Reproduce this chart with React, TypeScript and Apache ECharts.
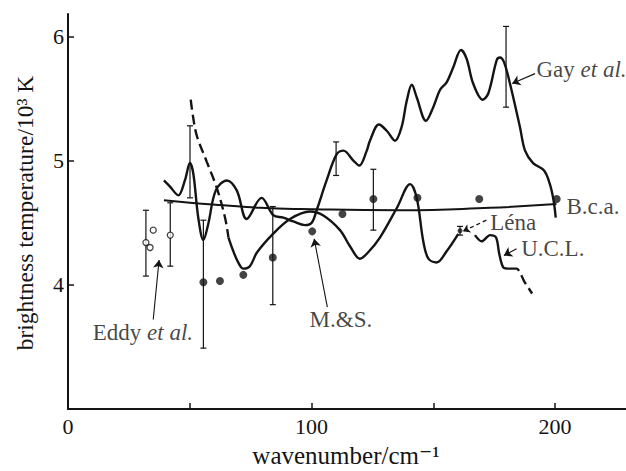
import React, { useEffect, useRef } from "react";
import * as echarts from "echarts";

const INK = "#141414";
const FONT = "'Liberation Serif', 'DejaVu Serif', serif";

// Gay et al. (solid curve)
const gayCurve: number[][] = [
  [39.4, 4.84], [41.9, 4.79], [45.3, 4.72], [48.0, 4.84], [50.1, 4.98], [51.5, 4.89],
  [53.5, 4.54], [55.6, 4.36], [57.6, 4.49], [60.7, 4.76], [65.2, 4.84], [69.3, 4.76],
  [73.4, 4.53], [79.5, 4.70], [84.3, 4.56], [88.4, 4.54], [92.5, 4.51], [97.3, 4.48],
  [100.1, 4.5], [102.1, 4.6], [106.2, 4.84], [110.3, 5.05], [113.1, 5.08], [117.2, 5.0],
  [119.6, 4.96], [122.7, 5.08], [124.0, 5.16], [127.7, 5.29], [130.9, 5.24], [134.3, 5.16],
  [137.0, 5.27], [139.1, 5.48], [141.2, 5.61], [143.2, 5.51], [147.0, 5.32], [150.0, 5.43],
  [152.8, 5.57], [155.5, 5.63], [158.2, 5.75], [161.4, 5.89], [163.7, 5.82], [166.4, 5.62],
  [170.3, 5.49], [172.6, 5.54], [176.1, 5.81], [177.4, 5.83], [179.1, 5.79], [181.5, 5.62],
  [185.6, 5.27], [187.7, 5.08], [191.0, 4.98], [195.5, 4.92], [197.9, 4.81], [199.4, 4.68],
  [200.3, 4.54],
];

// U.C.L. curve pieces
const uclDashedStart: number[][] = [
  [50.4, 5.49], [51.3, 5.36], [52.9, 5.2], [57.0, 4.99], [61.1, 4.78], [64.5, 4.54], [65.9, 4.38],
];
const uclSolidMain: number[][] = [
  [65.9, 4.38], [67.9, 4.27], [69.9, 4.18], [72.0, 4.13], [74.7, 4.15], [77.6, 4.26],
  [84.2, 4.41], [91.2, 4.53], [99.4, 4.59], [104.7, 4.56], [111.7, 4.44], [115.8, 4.31],
  [119.9, 4.21], [123.2, 4.26], [128.1, 4.38], [135.1, 4.62], [140.5, 4.81], [143.2, 4.7],
  [145.9, 4.35], [148.0, 4.21], [151.4, 4.18], [155.5, 4.27], [160.3, 4.41],
];
const uclSolidTail: number[][] = [
  [167.1, 4.4], [169.9, 4.35], [173.3, 4.4], [175.8, 4.38], [177.1, 4.25], [178.8, 4.14], [181.5, 4.13],
];
const uclDashedEnd: number[][] = [
  [181.5, 4.13], [184.4, 4.13], [185.6, 4.1], [187.3, 4.03], [190.6, 3.93],
];

// B.c.a. smooth curve
const bcaCurve: number[][] = [
  [39.4, 4.68], [50.1, 4.66], [63.8, 4.64], [78.9, 4.62], [95.3, 4.61], [136.3, 4.6],
  [173.3, 4.62], [200.6, 4.65],
];

// M.&S. points (filled)
const msPoints: number[][] = [
  [55.6, 4.02], [62.4, 4.03], [72.0, 4.08], [84.1, 4.22], [100.3, 4.43], [112.7, 4.57],
  [125.4, 4.69], [143.5, 4.7], [168.9, 4.69], [200.7, 4.69],
];
// Eddy et al. points (open)
const eddyPoints: number[][] = [[32.0, 4.34], [33.7, 4.3], [35.0, 4.44], [42.0, 4.4]];
// Léna point
const lenaPoints: number[][] = [[161.0, 4.435]];

// error bars: [x, low, high]
const errorBars: number[][] = [
  [50.1, 4.7, 5.28], [110.1, 4.88, 5.15], [179.9, 5.43, 6.08],
  [55.6, 3.49, 4.52], [84.1, 3.84, 4.63], [125.4, 4.44, 4.93],
  [32.0, 4.07, 4.6], [42.0, 4.15, 4.66], [161.0, 4.4, 4.47],
];

const xTickValues = [50, 100, 150, 200];
const xLabelValues = [0, 100, 200];
const yTickValues = [4, 5, 6];

// annotations (data coordinates)
const labelTexts = ["{r|Gay }{i|et al.}", "{r|B.c.a.}", "{r|Léna}", "{r|U.C.L.}", "{r|M.&S.}", "{r|Eddy }{i|et al.}"];
const labelAnchors: number[][] = [
  [192.6, 5.73], [204.9, 4.63], [173.6, 4.5], [186.3, 4.29], [99.4, 3.72], [10.4, 3.61],
];
const arrowLines: number[][][] = [
  [[191.8, 5.7], [182.4, 5.62]],
  [[184.2, 4.29], [179.0, 4.235]],
  [[106.5, 3.82], [101.1, 4.37]],
  [[35.0, 3.72], [37.4, 4.2]],
];
const lenaArrow: number[][][] = [[[171.8, 4.52], [162.2, 4.43]]];

export default function App() {
  const ref = useRef<HTMLDivElement>(null);
  useEffect(() => {
    if (!ref.current) return;
    const chart = echarts.init(ref.current, undefined, { renderer: "svg" });
    const lineBase = (data: number[][], dashed: boolean, width = 2.4, smooth: number | boolean = 0.35) => ({
      type: "line",
      data,
      smooth,
      showSymbol: false,
      symbol: "none",
      lineStyle: { color: INK, width, type: dashed ? [10, 5] : "solid" },
      silent: true,
      z: 3,
    });
    const rich = {
      r: { fontFamily: FONT, fontSize: 23, color: INK, fontStyle: "normal" },
      i: { fontFamily: FONT, fontSize: 23, color: INK, fontStyle: "italic" },
    };
    chart.setOption({
      animation: false,
      backgroundColor: "#ffffff",
      grid: { left: 68, top: 14, width: 229 * 2.435, height: 395, containLabel: false, outerBoundsMode: "none" },
      xAxis: {
        type: "value",
        min: 0,
        max: 229,
        interval: 50,
        axisLine: { show: true, lineStyle: { color: INK, width: 2 } },
        axisTick: { show: true, inside: true, length: 6, customValues: xTickValues, lineStyle: { color: INK, width: 1.5 } },
        axisLabel: { customValues: xLabelValues, fontFamily: FONT, fontSize: 22, color: INK, margin: 6 },
        splitLine: { show: false },
      },
      yAxis: {
        type: "value",
        min: 3,
        max: 6.18,
        interval: 1,
        axisLine: { show: true, lineStyle: { color: INK, width: 2 } },
        axisTick: { show: true, inside: true, length: 6, customValues: yTickValues, lineStyle: { color: INK, width: 1.5 } },
        axisLabel: { customValues: yTickValues, fontFamily: FONT, fontSize: 22, color: INK, margin: 4 },
        splitLine: { show: false },
      },
      graphic: [
        {
          type: "text",
          x: 346,
          y: 455,
          style: { text: "wavenumber/cm⁻¹", fontFamily: FONT, fontSize: 25, fill: INK, align: "center", verticalAlign: "middle" },
        },
        {
          type: "text",
          x: 25,
          y: 213,
          rotation: Math.PI / 2,
          style: { text: "brightness temperature/10³ K", fontFamily: FONT, fontSize: 23.5, fill: INK, align: "center", verticalAlign: "middle" },
        },
      ],
      series: [
        lineBase(gayCurve, false),
        lineBase(uclDashedStart, true),
        lineBase(uclSolidMain, false),
        lineBase(uclSolidTail, false, 2.4, 0.3),
        lineBase(uclDashedEnd, true, 2.4, 0.2),
        lineBase(bcaCurve, false, 2.0, 0.5),
        {
          type: "custom",
          data: errorBars,
          encode: { x: 0, y: [1, 2] },
          silent: true,
          z: 4,
          renderItem: (_p: any, api: any) => {
            const x = api.value(0);
            const a = api.coord([x, api.value(1)]);
            const b = api.coord([x, api.value(2)]);
            const c = 3;
            const st = { stroke: INK, lineWidth: 1.2 };
            return {
              type: "group",
              children: [
                { type: "line", shape: { x1: a[0], y1: a[1], x2: b[0], y2: b[1] }, style: st },
                { type: "line", shape: { x1: a[0] - c, y1: a[1], x2: a[0] + c, y2: a[1] }, style: st },
                { type: "line", shape: { x1: b[0] - c, y1: b[1], x2: b[0] + c, y2: b[1] }, style: st },
              ],
            };
          },
        },
        {
          type: "scatter",
          data: msPoints,
          symbol: "circle",
          symbolSize: 8,
          itemStyle: { color: INK },
          z: 5,
          silent: true,
        },
        {
          type: "scatter",
          data: eddyPoints,
          symbol: "circle",
          symbolSize: 6,
          itemStyle: { color: "#ffffff", borderColor: INK, borderWidth: 1.3 },
          z: 5,
          silent: true,
        },
        {
          type: "scatter",
          data: lenaPoints,
          symbol: "circle",
          symbolSize: 5,
          itemStyle: { color: INK },
          z: 5,
          silent: true,
        },
        {
          type: "lines",
          coordinateSystem: "cartesian2d",
          data: arrowLines.map((c) => ({ coords: c })),
          symbol: ["none", "arrow"],
          symbolSize: 8,
          lineStyle: { color: INK, width: 1.1, opacity: 1 },
          silent: true,
          z: 6,
        },
        {
          type: "lines",
          coordinateSystem: "cartesian2d",
          data: lenaArrow.map((c) => ({ coords: c })),
          symbol: ["none", "arrow"],
          symbolSize: 7,
          lineStyle: { color: INK, width: 1.3, type: [4, 3], opacity: 1 },
          silent: true,
          z: 6,
        },
        {
          type: "scatter",
          data: labelAnchors.map((p, i) => ({
            value: p,
            label: {
              show: true,
              formatter: labelTexts[i],
              position: [0, 0],
              align: "left",
              verticalAlign: "middle",
              rich,
            },
          })),
          symbolSize: 1,
          itemStyle: { color: "rgba(0,0,0,0)" },
          silent: true,
          z: 7,
        },
      ],
    });
    return () => chart.dispose();
  }, []);
  return <div ref={ref} style={{ position: "absolute", left: 0, top: 0, width: 626, height: 471 }} />;
}
